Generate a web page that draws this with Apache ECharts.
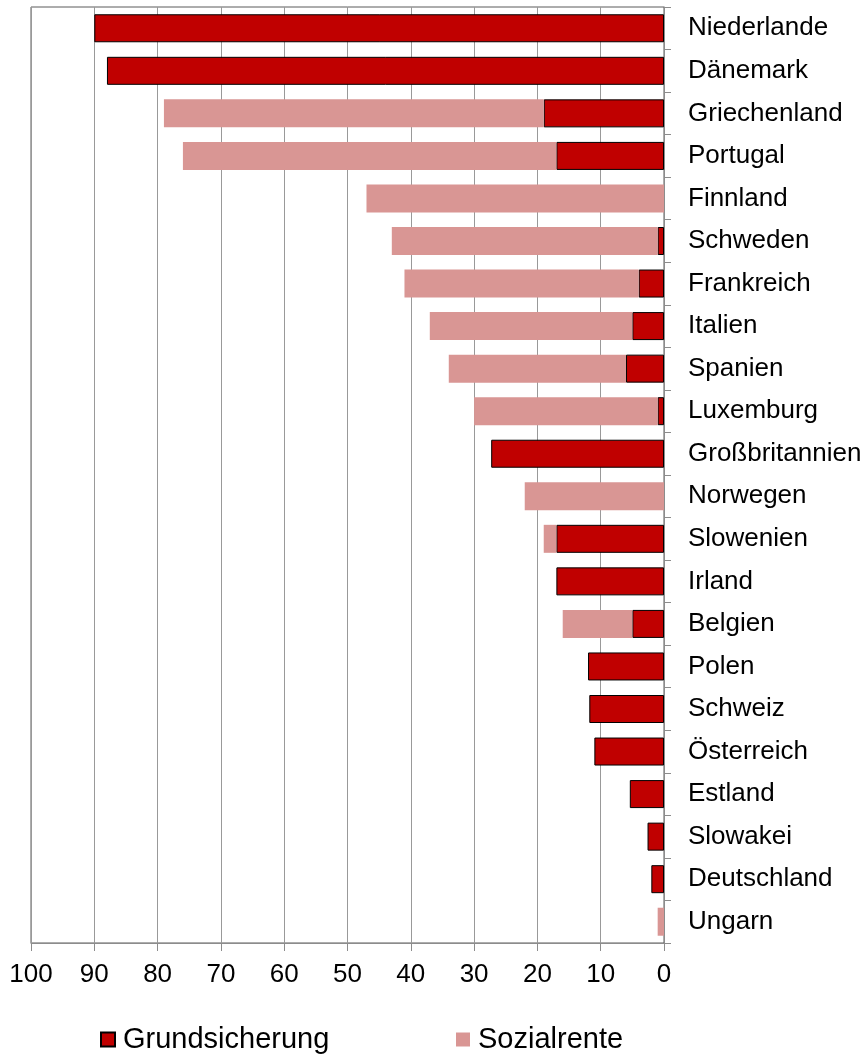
<!DOCTYPE html>
<html>
<head>
<meta charset="utf-8">
<title>Grundsicherung und Sozialrente</title>
<script src="https://cdn.jsdelivr.net/npm/echarts@6.0.0/dist/echarts.min.js"></script>
<style>
  html, body { margin: 0; padding: 0; background: #fff; }
  #chart { width: 868px; height: 1054px; }
</style>
</head>
<body>
<div id="chart"></div>
<script>
// Länder von oben nach unten
const countries = ['Niederlande', 'Dänemark', 'Griechenland', 'Portugal', 'Finnland', 'Schweden',
    'Frankreich', 'Italien', 'Spanien', 'Luxemburg', 'Großbritannien', 'Norwegen', 'Slowenien',
    'Irland', 'Belgien', 'Polen', 'Schweiz', 'Österreich', 'Estland', 'Slowakei', 'Deutschland', 'Ungarn'];

// Werte in Prozent
const grundsicherung = [90, 88, 19, 17, 0, 1, 4, 5, 6, 1, 27.3, 0, 17, 17, 5, 12, 11.8, 11, 5.4, 2.6, 2, 0];
const sozialrente = [0, 0, 60, 59, 47, 42, 37, 32, 28, 29, 0, 22, 2, 0, 11, 0, 0, 0, 0, 0, 0, 1];

const xTicks = { min: 0, max: 100, interval: 10 };

// 0 -> '-' damit keine leeren Balken mit Rahmen gezeichnet werden
const toBar = arr => arr.map(v => (v === 0 ? '-' : v));

const chart = echarts.init(document.getElementById('chart'));

const textFont = '"Liberation Sans", Arial, sans-serif';

// gemeinsame Legenden-Einstellungen, zwei Legenden für feste Positionen
const legendBase = {
    top: 1025,
    padding: 0,
    icon: 'rect',
    itemWidth: 14,
    itemHeight: 14,
    itemGap: 0,
    textStyle: { fontSize: 29, color: '#000', fontFamily: textFont, padding: [0, 0, 0, 3] }
};

const option = {
    animation: false,
    grid: {
        left: 31,
        right: 204,
        top: 7,
        bottom: 111,
        show: true,
        borderColor: '#5a5a5a',
        borderWidth: 1
    },
    legend: [
        Object.assign({ data: ['Grundsicherung'], left: 100 }, legendBase),
        Object.assign({ data: ['Sozialrente'], left: 456 }, legendBase)
    ],
    xAxis: {
        type: 'value',
        inverse: true,
        min: xTicks.min,
        max: xTicks.max,
        interval: xTicks.interval,
        axisLine: { show: true, lineStyle: { color: '#8c8c8c', width: 1 } },
        axisTick: { show: true, length: 8, lineStyle: { color: '#8c8c8c' } },
        axisLabel: { fontSize: 26, color: '#000', fontFamily: textFont, margin: 19 },
        splitLine: { show: true, lineStyle: { color: '#999', width: 1 } }
    },
    yAxis: {
        type: 'category',
        position: 'right',
        inverse: true,
        data: countries,
        axisLine: { show: true, lineStyle: { color: '#8c8c8c', width: 1 } },
        axisTick: { show: true, length: 7, lineStyle: { color: '#8c8c8c' } },
        axisLabel: { fontSize: 26, color: '#000', fontFamily: textFont, margin: 24, align: 'left' },
        splitLine: { show: false }
    },
    series: [
        {
            name: 'Grundsicherung',
            type: 'bar',
            stack: 'gesamt',
            barWidth: 28,
            data: toBar(grundsicherung),
            itemStyle: { color: '#C00000', borderColor: '#000', borderWidth: 1 }
        },
        {
            name: 'Sozialrente',
            type: 'bar',
            stack: 'gesamt',
            barWidth: 28,
            data: toBar(sozialrente),
            itemStyle: { color: '#D99694' }
        }
    ]
};

chart.setOption(option);
</script>
</body>
</html>
